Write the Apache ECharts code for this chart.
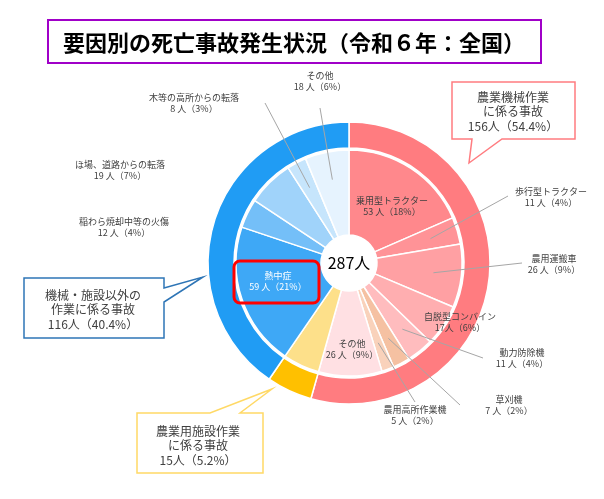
<!DOCTYPE html>
<html>
<head>
<meta charset="utf-8">
<script src="https://cdn.jsdelivr.net/npm/echarts@6/dist/echarts.min.js"></script>
<style>
html,body{margin:0;padding:0;background:#fff;}
#c{width:604px;height:499px;}
</style>
</head>
<body>
<div id="c"></div>
<script>
// ---- data ----
const titleText = '要因別の死亡事故発生状況（令和６年：全国）';
const totalLabel = '287人';
const groupNames = ['農業機械作業に係る事故', '農業用施設作業に係る事故', '機械・施設以外の作業に係る事故'];
const groupValues = [156, 15, 116];
const groupPctText = ['54.4%', '5.2%', '40.4%'];
const calloutLines = [['農業機械作業', 'に係る事故'], ['農業用施設作業', 'に係る事故'], ['機械・施設以外の', '作業に係る事故']];
const detailNames = ['乗用型トラクター', '歩行型トラクター', '農用運搬車', '自脱型コンバイン', '動力防除機', '草刈機', '農用高所作業機', 'その他',
  '農業用施設作業', '熱中症', '稲わら焼却中等の火傷', 'ほ場、道路からの転落', '木等の高所からの転落', 'その他'];
const detailValues = [53, 11, 26, 17, 11, 7, 5, 26, 15, 59, 12, 19, 8, 18];

// ---- styles / layout ----
const CX = 349, CY = 263;
const groupColors = ['#ff7c80', '#ffc000', '#209cf4'];
const detailColors = ['#ff888c', '#ff9397', '#ffa0a3', '#ffaeb0', '#ffbcbe', '#f5c1a2', '#f9d2bb', '#ffe0e3',
  '#fde08a', '#3ea8f6', '#74bff8', '#a0d3fa', '#c6e5fc', '#e6f3fe'];
const labelPos = [[392, 206], [551, 197], [554, 264], [460, 322], [522, 358], [509, 405], [415, 415], [352, 349], null,
  [278, 281], [124, 227], [120, 170], [194, 103], [320, 81]];
const lineEnd = [null, [508, 196], [522, 263], null, [483, 358], [460, 405], [415, 402], null, null,
  null, null, null, [265, 103], [320, 108]];
const noSpace = [false, false, false, true, false, false, false, false, false, false, false, false, false, false];

const total = detailValues.reduce((a, b) => a + b, 0);
const midAngles = [];
{
  let acc = 0;
  detailValues.forEach(v => { midAngles.push((acc + v / 2) / total * 2 * Math.PI); acc += v; });
}
const FONT = '"Noto Sans CJK JP", "Noto Sans", sans-serif';

const innerData = detailNames.map((n, i) => ({
  name: n, value: detailValues[i],
  itemStyle: { color: detailColors[i] },
  label: { show: labelPos[i] !== null, color: i === 9 ? '#ffffff' : '#404040' }
}));
const outerData = groupNames.map((n, i) => ({ name: n, value: groupValues[i], itemStyle: { color: groupColors[i] } }));

function calloutText(i) {
  return calloutLines[i].concat([groupValues[i] + '人（' + groupPctText[i] + '）']);
}

const chart = echarts.init(document.getElementById('c'), null, { renderer: 'canvas' });

function textLines(lines, x, y0, dy, color) {
  return lines.map((t, j) => ({
    type: 'text', x: x, y: y0 + j * dy, z: 20,
    style: { text: t, fill: color, font: '12px ' + FONT, textAlign: 'center', textVerticalAlign: 'middle' }
  }));
}

// leader lines: from inside each slice (computed from the data angles) to its label
const leaderLines = [];
lineEnd.forEach((e, i) => {
  if (!e) return;
  const a = midAngles[i];
  const ax = CX + 85 * Math.sin(a), ay = CY - 85 * Math.cos(a);
  leaderLines.push({ type: 'polyline', z: 12, silent: true, shape: { points: [[ax, ay], e] },
    style: { stroke: '#a6a6a6', lineWidth: 1, fill: null } });
});

const graphics = [
  { type: 'rect', shape: { x: 48, y: 20, width: 493, height: 43 }, style: { fill: '#fff', stroke: '#a000c8', lineWidth: 2 }, z: 10 },
  { type: 'text', x: 294, y: 43, z: 11, style: { text: titleText, fill: '#000', font: 'bold 22px ' + FONT, textAlign: 'center', textVerticalAlign: 'middle' } },
  { type: 'text', x: CX, y: CY, z: 11, style: { text: totalLabel, fill: '#000', font: '16px ' + FONT, textAlign: 'center', textVerticalAlign: 'middle' } },
  { type: 'polygon', z: 10, shape: { points: [[452, 82], [575, 82], [575, 139], [502, 139], [469, 163], [472, 139], [452, 139]] },
    style: { fill: '#fff', stroke: '#ff7c80', lineWidth: 1.5 } },
  { type: 'polygon', z: 10, shape: { points: [[24, 278], [164, 278], [164, 288], [203, 277], [164, 302], [164, 338], [24, 338]] },
    style: { fill: '#fff', stroke: '#2e75b6', lineWidth: 1.5 } },
  { type: 'polygon', z: 10, shape: { points: [[137, 413], [210, 413], [272, 389], [240, 413], [263, 413], [263, 473], [137, 473]] },
    style: { fill: '#fff', stroke: '#ffd966', lineWidth: 1.5 } },
  { type: 'rect', z: 15, shape: { x: 234, y: 261, width: 85, height: 42, r: 6 }, style: { fill: 'none', stroke: '#ff0000', lineWidth: 3 } }
].concat(
  leaderLines,
  textLines(calloutText(0), 513, 97, 14.5, '#404040'),
  textLines(calloutText(2), 93, 295, 14.5, '#404040'),
  textLines(calloutText(1), 198, 431, 14.5, '#404040')
);

chart.setOption({
  animation: false,
  backgroundColor: '#fff',
  graphic: graphics,
  series: [
    {
      type: 'pie', center: [CX, CY], radius: [115, 141], startAngle: 90, clockwise: true,
      silent: true, label: { show: false }, labelLine: { show: false },
      itemStyle: { borderColor: '#fff', borderWidth: 1.5 },
      data: outerData
    },
    {
      type: 'pie', center: [CX, CY], radius: [28, 113], startAngle: 90, clockwise: true,
      silent: true, avoidLabelOverlap: false,
      itemStyle: { borderColor: '#fff', borderWidth: 1.5 },
      label: {
        position: 'inside', fontFamily: FONT, fontSize: 9, lineHeight: 11, color: '#404040', align: 'center',
        formatter: function (p) {
          const pct = Math.round(p.value / total * 100);
          return p.name + '\n' + p.value + (noSpace[p.dataIndex] ? '' : ' ') + '人（' + pct + '%）';
        }
      },
      labelLine: { show: false },
      labelLayout: function (params) {
        const pos = labelPos[params.dataIndex];
        if (!pos) return {};
        return { x: pos[0], y: pos[1], align: 'center', verticalAlign: 'middle' };
      },
      data: innerData
    }
  ]
});
</script>
</body>
</html>
